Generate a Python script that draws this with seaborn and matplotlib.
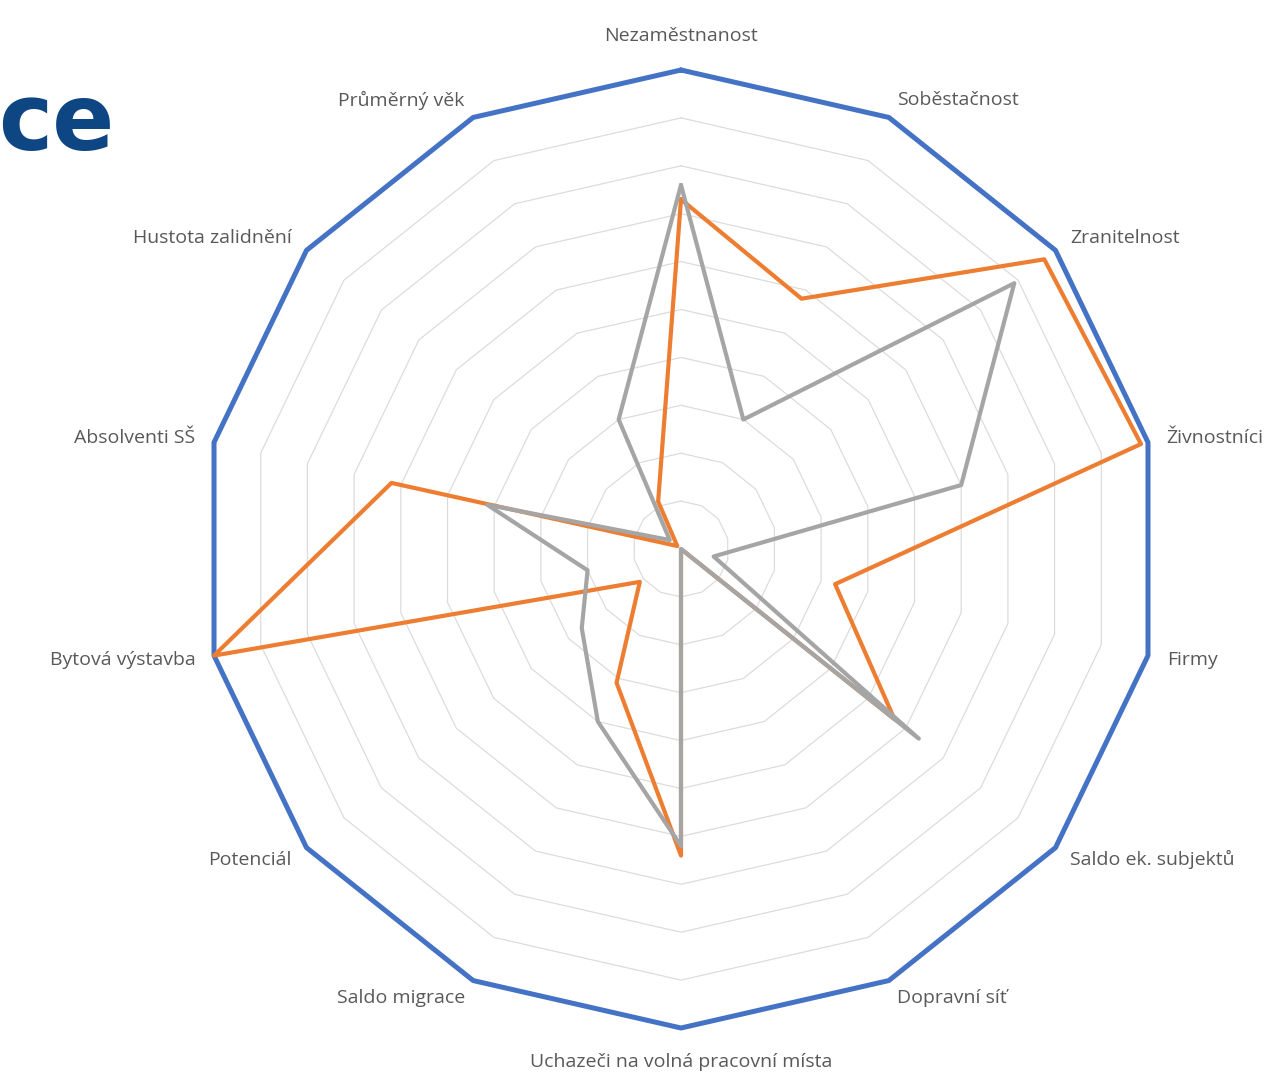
import numpy as np
import pandas as pd
import matplotlib
matplotlib.use("Agg")
import matplotlib.pyplot as plt
import seaborn as sns

# Radar categories, clockwise from the top
categories = ["Nezaměstnanost", "Soběstačnost", "Zranitelnost", "Živnostníci", "Firmy",
              "Saldo ek. subjektů", "Dopravní síť", "Uchazeči na volná pracovní místa",
              "Saldo migrace", "Potenciál", "Bytová výstavba", "Absolventi SŠ",
              "Hustota zalidnění", "Průměrný věk"]

# Series values (share of maximum)
max_vals = [1.0, 1.0, 1.0, 1.0, 1.0, 1.0, 1.0, 1.0, 1.0, 1.0, 1.0, 1.0, 1.0, 1.0]
orange_vals = [0.73, 0.58, 0.97, 0.985, 0.33, 0.57, 0.0, 0.64, 0.31, 0.11, 1.0, 0.62, 0.01, 0.11]
grey_vals = [0.76, 0.30, 0.89, 0.60, 0.07, 0.635, 0.0, 0.62, 0.40, 0.265, 0.20, 0.415, 0.03, 0.30]
grid_levels = [0.1, 0.2, 0.3, 0.4, 0.5, 0.6, 0.7, 0.8, 0.9]

series = {"Maximum": max_vals, "Obec": orange_vals, "Průměr": grey_vals}
palette = {"Maximum": "#4472C4", "Obec": "#ED7D31", "Průměr": "#A5A5A5"}

sns.set_style("white")
plt.rcParams["font.family"] = ["Open Sans", "DejaVu Sans"]

n = len(categories)
theta = np.linspace(0, 2 * np.pi, n, endpoint=False)
theta_closed = np.append(theta, 2 * np.pi)

# long table, each series closed back to its first point
rows = []
for name, vals in series.items():
    for t, v in zip(theta_closed, vals + vals[:1]):
        rows.append({"theta": t, "value": v, "series": name})
df = pd.DataFrame(rows)

fig = plt.figure(figsize=(12.65, 10.73), dpi=100)
ax = fig.add_axes([202 / 1265, 45 / 1073, 958 / 1265, 958 / 1073], projection="polar")
ax.set_theta_zero_location("N")
ax.set_theta_direction(-1)

# polygon gridlines
for lvl in grid_levels:
    ax.plot(theta_closed, [lvl] * (n + 1), color="#DCDCDC", lw=0.9, zorder=1)

for i, name in enumerate(series):
    sub = df[df["series"] == name]
    sns.lineplot(data=sub, x="theta", y="value", ax=ax, sort=False, estimator=None,
                 color=palette[name], lw=3.6 if name == "Maximum" else 3.0,
                 legend=False, zorder=3 + i)
for line in ax.lines:
    line.set_clip_on(False)

ax.set_ylim(0, 1)
ax.set_xticks([])
ax.set_yticks([])
ax.set_xlabel("")
ax.set_ylabel("")
ax.grid(False)
ax.spines["polar"].set_visible(False)

# category labels
for t, lab in zip(theta, categories):
    s = np.sin(t)
    if abs(s) < 1e-6:
        ax.text(t, 1.07, lab, ha="center", va="center", fontsize=14, color="#595959")
    else:
        ax.text(t, 1.04, lab, ha="left" if s > 0 else "right", va="center",
                fontsize=14, color="#595959")

fig.text(114 / 1265, 1 - 150 / 1073, "ce", ha="right", va="baseline", fontsize=66,
         fontweight="bold", color="#0D4682", family="DejaVu Sans")

plt.savefig("out.png", dpi=100)
